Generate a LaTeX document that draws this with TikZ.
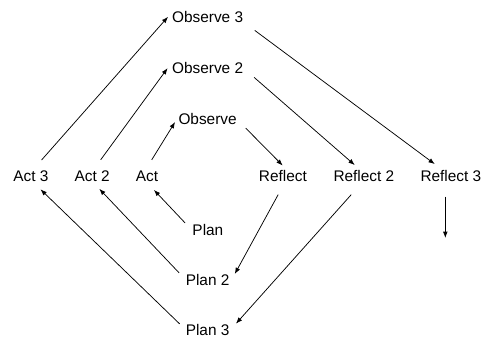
\documentclass[tikz,border=0pt]{standalone}
\usepackage{fontspec}
\setmainfont{Liberation Sans}
\usetikzlibrary{arrows.meta}

\begin{document}
\begin{tikzpicture}[
  stage/.style={inner sep=2pt, font=\fontsize{14.6}{17}\selectfont},
  cycle/.style={->, >={Latex[length=6pt,width=4.5pt]}, line width=0.7pt}]
  \useasboundingbox (0,0) rectangle (16.1,11.433);
  % top row
  \node[stage] (observe3) at (6.92,10.85) {Observe 3};
  \node[stage] (observe2) at (6.92,9.15) {Observe 2};
  \node[stage] (observe1) at (6.92,7.48) {Observe};
  % middle row
  \node[stage] (act3) at (1.03,5.55) {Act 3};
  \node[stage] (act2) at (3.07,5.55) {Act 2};
  \node[stage] (act1) at (4.9,5.55) {Act};
  \node[stage] (reflect1) at (9.43,5.55) {Reflect};
  \node[stage] (reflect2) at (12.13,5.55) {Reflect 2};
  \node[stage] (reflect3) at (15.03,5.55) {Reflect 3};
  % bottom row
  \node[stage] (plan1) at (6.93,3.77) {Plan};
  \node[stage] (plan2) at (6.92,2.1) {Plan 2};
  \node[stage] (plan3) at (6.92,0.43) {Plan 3};
  \coordinate (next) at (14.83,3.5);

  \draw[cycle, shorten <=11pt, shorten >=2.5pt] (act3.69) -- (observe3.176);
  \draw[cycle, shorten <=10.5pt, shorten >=3.5pt] (act2.75) -- (observe2.175);
  \draw[cycle, shorten <=10pt, shorten >=2pt] (act1.96) -- (observe1.183);
  \draw[cycle, shorten <=11pt, shorten >=7pt] (observe3.-9) -- (reflect3.142);
  \draw[cycle, shorten <=11pt, shorten >=5pt] (observe2.-2) -- (reflect2.123);
  \draw[cycle, shorten <=9pt, shorten >=4pt] (observe1.-5) -- (reflect1.71);
  \draw[cycle, shorten <=11pt, shorten >=6pt] (reflect1.-84) -- (plan2.1);
  \draw[cycle, shorten <=13pt, shorten >=6pt] (reflect2.-114) -- (plan3.4);
  \draw[cycle, shorten <=7pt, shorten >=7.5pt] (plan1.175) -- (act1.-79);
  \draw[cycle, shorten <=6pt, shorten >=6pt] (plan2.174) -- (act2.-70);
  \draw[cycle, shorten <=5pt, shorten >=7pt] (plan3.174) -- (act3.-61);
  \draw[cycle, shorten <=11.5pt] (reflect3.-125) -- (reflect3.-125 |- next);
\end{tikzpicture}
\end{document}
